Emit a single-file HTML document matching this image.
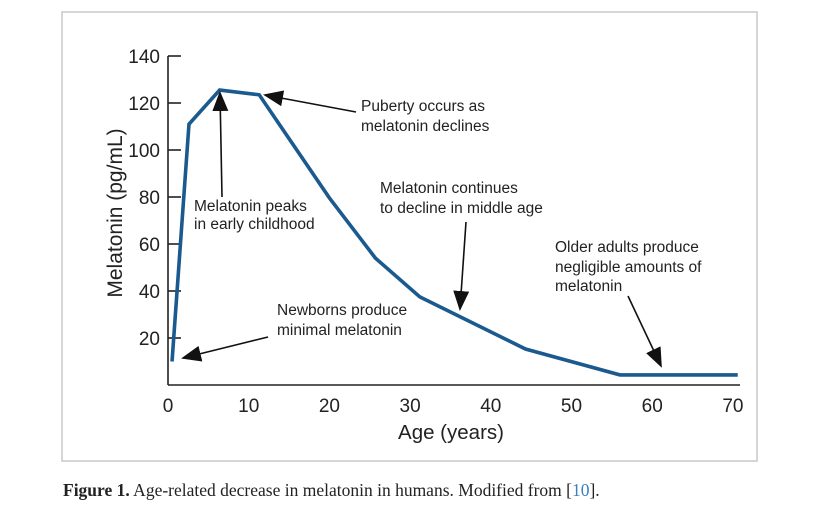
<!DOCTYPE html>
<html><head><meta charset="utf-8"><style>
body{margin:0;background:#fff;width:828px;height:519px;overflow:hidden}
svg text{font-family:"Liberation Sans",Arial,sans-serif}
svg text.serif{font-family:"Liberation Serif",serif}
</style></head><body>
<svg width="828" height="519">
<defs>
<marker id="ah2" viewBox="0 0 10 10" refX="9" refY="5" markerWidth="20" markerHeight="16" orient="auto" markerUnits="userSpaceOnUse" preserveAspectRatio="none"><path d="M0,0L10,5L0,10z" fill="#111"/></marker></defs>
<rect x="62" y="12" width="695" height="449" fill="none" stroke="#c8c8c8" stroke-width="1.5"/>
<g id="axes"></g>
<g id="plot"></g>
<g id="ann" font-size="15.5" fill="#222">
<text x="361" y="111">Puberty occurs as</text>
<text x="361" y="131">melatonin declines</text>
<line x1="356" y1="112" x2="265" y2="95" stroke="#111" stroke-width="1.6" marker-end="url(#ah2)"/>
<text x="194" y="211">Melatonin peaks</text>
<text x="194" y="229">in early childhood</text>
<line x1="222" y1="197" x2="220" y2="93" stroke="#111" stroke-width="1.6" marker-end="url(#ah2)"/>
<text x="380" y="193">Melatonin continues</text>
<text x="380" y="213">to decline in middle age</text>
<line x1="466" y1="222" x2="460" y2="309" stroke="#111" stroke-width="1.6" marker-end="url(#ah2)"/>
<text x="555" y="252">Older adults produce</text>
<text x="555" y="272">negligible amounts of</text>
<text x="555" y="291">melatonin</text>
<line x1="628" y1="296" x2="661" y2="366" stroke="#111" stroke-width="1.6" marker-end="url(#ah2)"/>
<text x="277" y="315">Newborns produce</text>
<text x="277" y="335">minimal melatonin</text>
<line x1="268" y1="337" x2="183" y2="358" stroke="#111" stroke-width="1.6" marker-end="url(#ah2)"/>
</g>
<text class="serif" x="63" y="496" font-size="17.5" fill="#222"><tspan font-weight="bold">Figure 1.</tspan> Age-related decrease in melatonin in humans. Modified from [<tspan fill="#3a7fc0">10</tspan>].</text>
</svg>
<script>
const ages=[0.5,2.6,6.4,11.3,20,25.7,31.2,44.3,56,70.6];
const melatonin=[10,111,125.5,123.5,79.6,54,37.5,15.3,4.3,4.3];
const xTicks=[0,10,20,30,40,50,60,70];
const yTicks=[20,40,60,80,100,120,140];
const NS="http://www.w3.org/2000/svg";
const X=v=>168+v*8.07, Y=v=>385-v*2.35;
function mk(t,a,p){const e=document.createElementNS(NS,t);for(const k in a)e.setAttribute(k,a[k]);p.appendChild(e);return e;}
const ax=document.getElementById('axes'), pl=document.getElementById('plot');
let e=mk('line',{x1:168,y1:Y(140),x2:168,y2:385,stroke:'#222','stroke-width':1.6},ax);


e=mk('line',{x1:168,y1:385,x2:740,y2:385,stroke:'#222','stroke-width':1.6},ax);


yTicks.forEach(v=>{
 let t=mk('line',{x1:168,x2:181,y1:Y(v),y2:Y(v),stroke:'#222','stroke-width':1.6},ax);
 
 
 let l=mk('text',{x:160,y:Y(v)+7,'text-anchor':'end','font-size':19,fill:'#222'},ax);l.textContent=v;
 
 
});
xTicks.forEach(v=>{
 let l=mk('text',{x:X(v),y:412,'text-anchor':'middle','font-size':19,fill:'#222'},ax);l.textContent=v;
 
 
});
let xt=mk('text',{x:451,y:439,'text-anchor':'middle','font-size':20.5,fill:'#222'},ax);xt.textContent='Age (years)';


let yt=mk('text',{x:0,y:0,'text-anchor':'middle','font-size':21,fill:'#222',transform:'translate(122,213) rotate(-90)'},ax);yt.textContent='Melatonin (pg/mL)';


let line=mk('polyline',{points:ages.map((a,i)=>X(a)+','+Y(melatonin[i])).join(' '),fill:'none',stroke:'#1a5a8e','stroke-width':3.6,'stroke-linejoin':'miter'},pl);


</script>
</body></html>
